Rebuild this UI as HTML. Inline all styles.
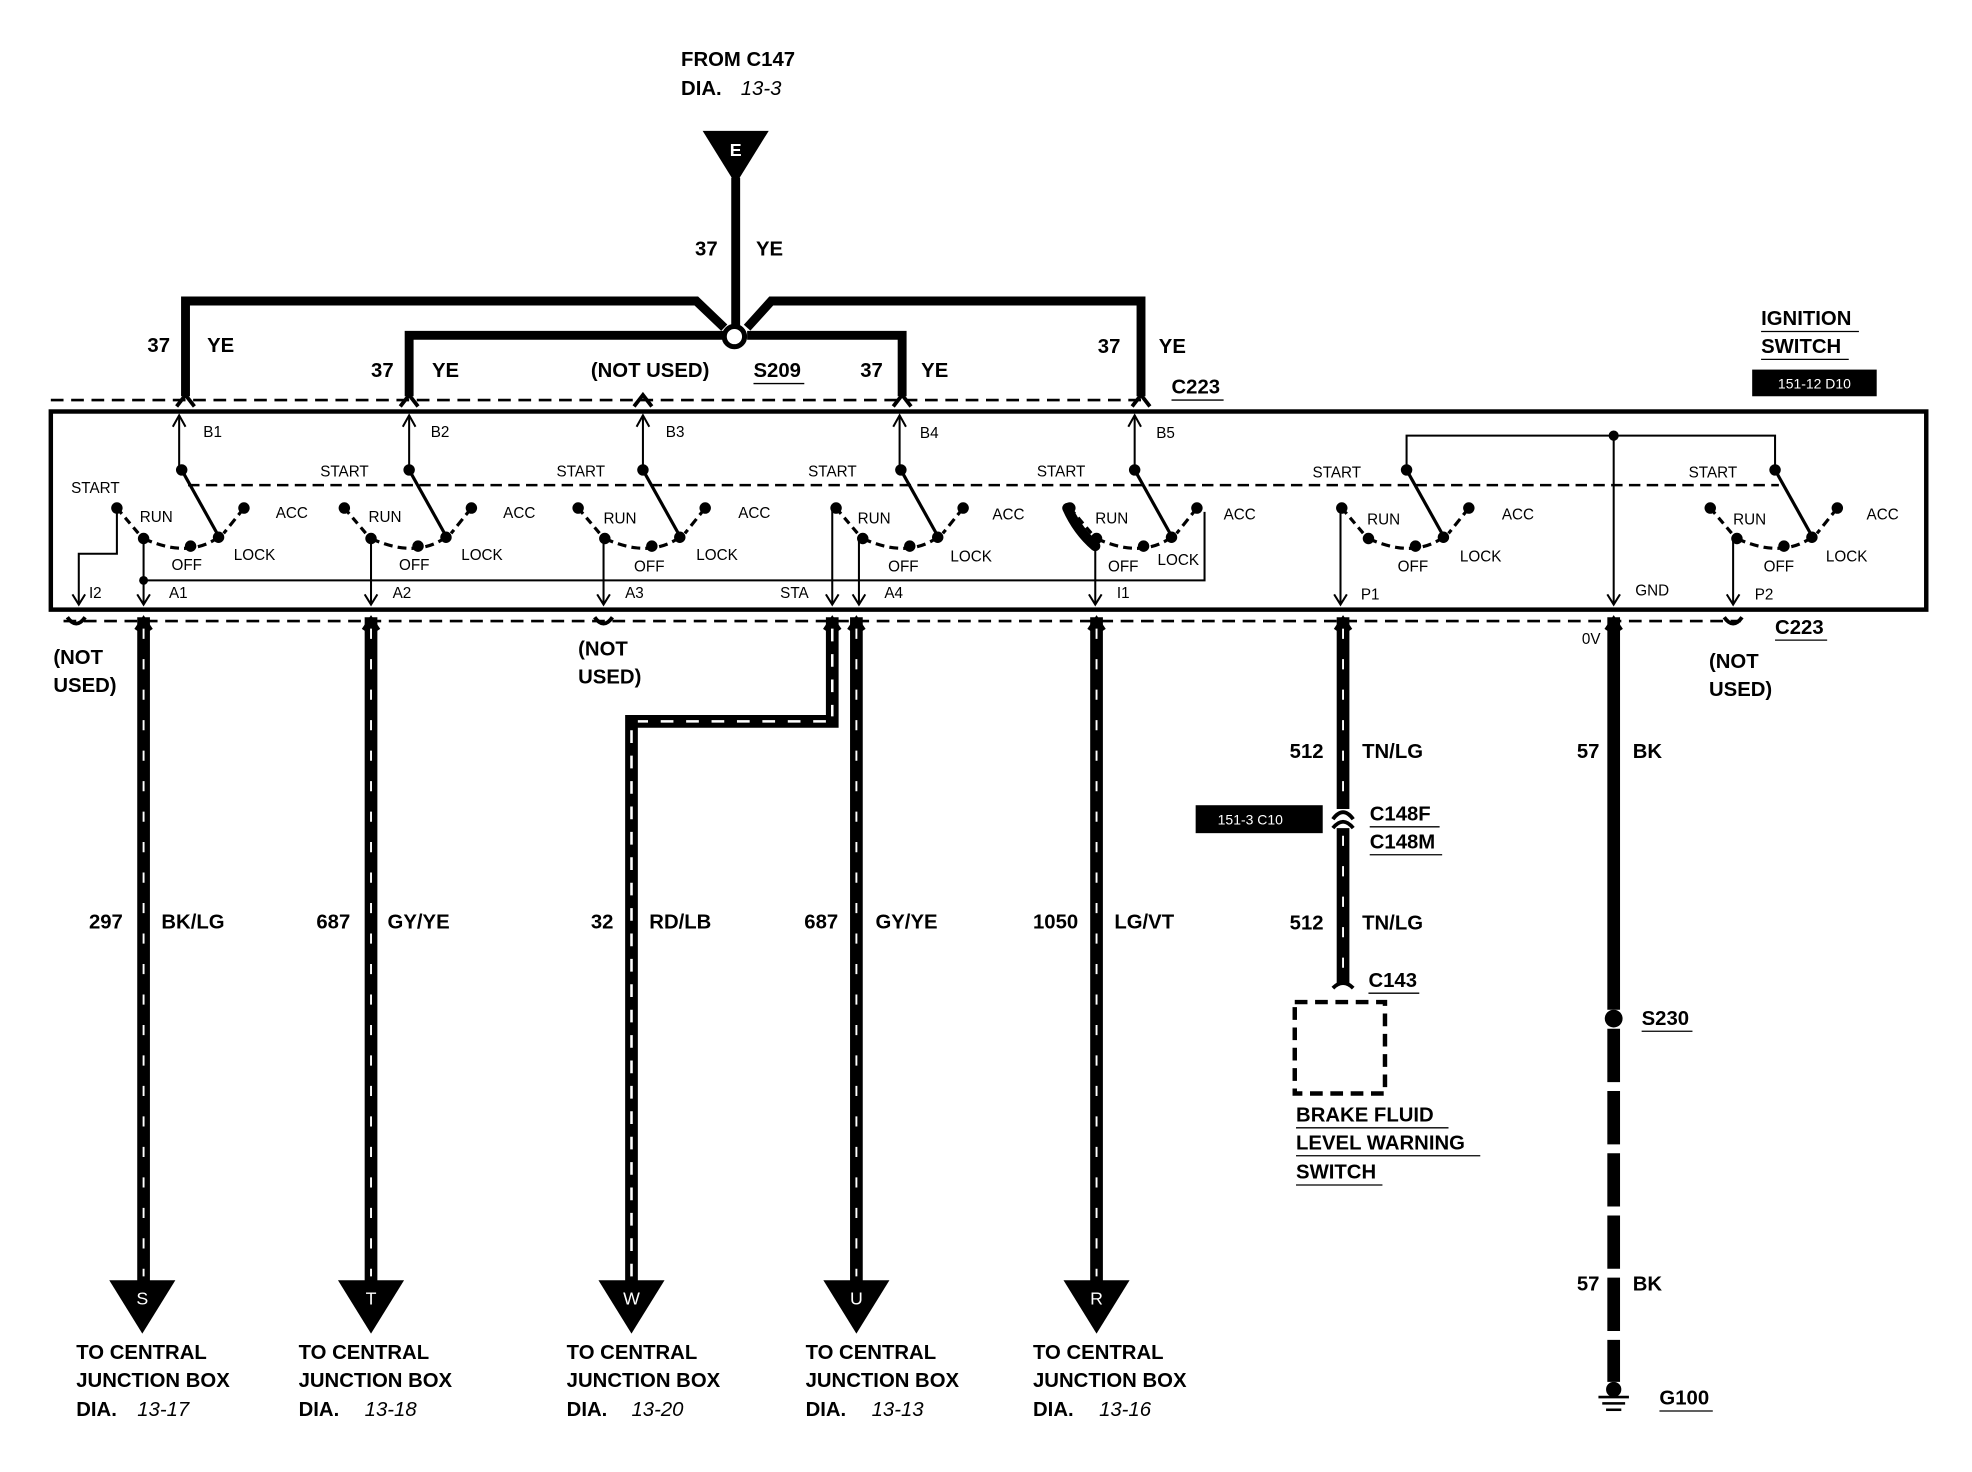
<!DOCTYPE html>
<html><head><meta charset="utf-8"><style>
html,body{margin:0;padding:0;background:#fff;}
svg{display:block}
text{font-family:"Liberation Sans",Arial,sans-serif;font-weight:bold;fill:#000}
.b{font-size:16px}
.s{font-size:12px;font-weight:normal}
.i{font-style:italic;font-weight:normal}
</style></head><body>
<svg width="1972" height="1472" viewBox="0 0 1552 1159" preserveAspectRatio="none" xmlns="http://www.w3.org/2000/svg">
<rect width="1552" height="1159" fill="#fff"/>
<text class="b" x="536" y="52">FROM C147</text>
<text class="b" x="536" y="75">DIA.</text><text class="b i" x="583" y="75">13-3</text>
<polygon points="553,103 605,103 579,145" fill="#000"/>
<text x="579" y="123" text-anchor="middle" style="fill:#fff;font-size:14px">E</text>
<g stroke="#000" stroke-width="7" fill="none">
<line x1="579" y1="140" x2="579" y2="258"/>
<polyline points="146,312 146,237 548,237 570,258"/>
<polyline points="898,312 898,237 607,237 588,258"/>
<polyline points="322,312 322,264 570,264"/>
<polyline points="588,264 710,264 710,312"/>
</g>
<circle cx="578" cy="265" r="8" fill="#fff" stroke="#000" stroke-width="4"/>
<text class="b" x="547" y="201">37</text><text class="b" x="595" y="201">YE</text>
<text class="b" x="116" y="277">37</text><text class="b" x="163" y="277">YE</text>
<text class="b" x="292" y="297">37</text><text class="b" x="340" y="297">YE</text>
<text class="b" x="465" y="297">(NOT USED)</text>
<text class="b" x="593" y="297">S209</text><line x1="593" y1="302" x2="633" y2="302" stroke="#000"/>
<text class="b" x="677" y="297">37</text><text class="b" x="725" y="297">YE</text>
<text class="b" x="864" y="278">37</text><text class="b" x="912" y="278">YE</text>
<text class="b" x="922" y="310">C223</text><line x1="922" y1="315" x2="963" y2="315" stroke="#000"/>
<text class="b" x="1386" y="256">IGNITION</text><line x1="1386" y1="261" x2="1463" y2="261" stroke="#000"/>
<text class="b" x="1386" y="278">SWITCH</text><line x1="1386" y1="283" x2="1455" y2="283" stroke="#000"/>
<rect x="1379" y="291" width="98" height="21" fill="#000"/>
<text x="1428" y="306" text-anchor="middle" style="fill:#fff;font-size:11px;font-weight:normal">151-12 D10</text>
<line x1="40" y1="315" x2="900" y2="315" stroke="#000" stroke-width="2" stroke-dasharray="10,6"/>
<g stroke="#000" stroke-width="3" fill="none">
<polyline points="139,320 146,311 153,320"/><polyline points="315,320 322,311 329,320"/>
<polyline points="499,320 506,311 513,320"/><polyline points="703,320 710,311 717,320"/>
<polyline points="891,320 898,311 905,320"/>
</g>
<rect x="40" y="324" width="1476" height="156" fill="none" stroke="#000" stroke-width="3.5"/>
<line x1="148" y1="382" x2="1400" y2="382" stroke="#000" stroke-width="2" stroke-dasharray="9,5"/>
<g stroke="#000" stroke-width="1.6" fill="none">
<line x1="141" y1="327" x2="141" y2="370"/><line x1="322" y1="327" x2="322" y2="370"/>
<line x1="506" y1="327" x2="506" y2="370"/><line x1="708" y1="327" x2="708" y2="370"/>
<line x1="893" y1="327" x2="893" y2="370"/>
<path d="M136,336 L141,327 L146,336 M317,336 L322,327 L327,336 M501,336 L506,327 L511,336 M703,336 L708,327 L713,336 M888,336 L893,327 L898,336"/>
<polyline points="1107,370 1107,343 1397,343 1397,370"/>
<line x1="1270" y1="343" x2="1270" y2="476"/>
<polyline points="113,457 948,457 948,403"/>
<polyline points="92,400 92,436 62,436 62,476"/>
<line x1="113" y1="424" x2="113" y2="476"/><line x1="292" y1="424" x2="292" y2="476"/>
<line x1="475" y1="424" x2="475" y2="476"/><line x1="655" y1="402" x2="655" y2="476"/>
<line x1="676" y1="424" x2="676" y2="476"/><line x1="862" y1="428" x2="862" y2="476"/>
<line x1="1055" y1="402" x2="1055" y2="476"/><line x1="1364" y1="424" x2="1364" y2="476"/>
<path d="M57,468 L62,476 L67,468 M108,468 L113,476 L118,468 M287,468 L292,476 L297,468 M470,468 L475,476 L480,468 M650,468 L655,476 L660,468 M671,468 L676,476 L681,468 M857,468 L862,476 L867,468 M1050,468 L1055,476 L1060,468 M1265,468 L1270,476 L1275,468 M1359,468 L1364,476 L1369,468"/>
</g>
<circle cx="1270" cy="343" r="4" fill="#000"/>
<circle cx="113" cy="457" r="3.5" fill="#000"/>
<defs>
<g id="sw">
<line x1="0" y1="0" x2="29" y2="52" stroke="#000" stroke-width="2.5"/>
<line x1="-51" y1="30" x2="-34" y2="50" stroke="#000" stroke-width="2.5" stroke-dasharray="6,4"/>
<line x1="49" y1="30" x2="33" y2="50" stroke="#000" stroke-width="2.5" stroke-dasharray="7,4"/>
<path d="M-30,54 Q5,70 29,53" stroke="#000" stroke-width="2.5" fill="none" stroke-dasharray="7,4"/>
<circle cx="0" cy="0" r="4.5"/><circle cx="-51" cy="30" r="4.5"/><circle cx="-30" cy="54" r="4.5"/>
<circle cx="7" cy="60" r="4.5"/><circle cx="29" cy="53" r="4.5"/><circle cx="49" cy="30" r="4.5"/>
</g>
</defs>
<use href="#sw" x="143" y="370"/><use href="#sw" x="322" y="370"/><use href="#sw" x="506" y="370"/>
<use href="#sw" x="709" y="370"/><use href="#sw" x="893" y="370"/><use href="#sw" x="1107" y="370"/>
<use href="#sw" x="1397" y="370"/>
<path d="M840,400 Q848,418 862,430" stroke="#000" stroke-width="8" fill="none" stroke-linecap="round"/>
<g class="s">
<text class="s" x="56" y="388">START</text><text class="s" x="252" y="375">START</text><text class="s" x="438" y="375">START</text>
<text class="s" x="636" y="375">START</text><text class="s" x="816" y="375">START</text><text class="s" x="1033" y="376">START</text><text class="s" x="1329" y="376">START</text>
<text class="s" x="110" y="411">RUN</text><text class="s" x="290" y="411">RUN</text><text class="s" x="475" y="412">RUN</text><text class="s" x="675" y="412">RUN</text><text class="s" x="862" y="412">RUN</text><text class="s" x="1076" y="413">RUN</text><text class="s" x="1364" y="413">RUN</text>
<text class="s" x="217" y="408">ACC</text><text class="s" x="396" y="408">ACC</text><text class="s" x="581" y="408">ACC</text><text class="s" x="781" y="409">ACC</text><text class="s" x="963" y="409">ACC</text><text class="s" x="1182" y="409">ACC</text><text class="s" x="1469" y="409">ACC</text>
<text class="s" x="135" y="449">OFF</text><text class="s" x="314" y="449">OFF</text><text class="s" x="499" y="450">OFF</text><text class="s" x="699" y="450">OFF</text><text class="s" x="872" y="450">OFF</text><text class="s" x="1100" y="450">OFF</text><text class="s" x="1388" y="450">OFF</text>
<text class="s" x="184" y="441">LOCK</text><text class="s" x="363" y="441">LOCK</text><text class="s" x="548" y="441">LOCK</text><text class="s" x="748" y="442">LOCK</text><text class="s" x="911" y="445">LOCK</text><text class="s" x="1149" y="442">LOCK</text><text class="s" x="1437" y="442">LOCK</text>
<text class="s" x="160" y="344">B1</text><text class="s" x="339" y="344">B2</text><text class="s" x="524" y="344">B3</text><text class="s" x="724" y="345">B4</text><text class="s" x="910" y="345">B5</text>
<text class="s" x="70" y="471">I2</text><text class="s" x="133" y="471">A1</text><text class="s" x="309" y="471">A2</text><text class="s" x="492" y="471">A3</text><text class="s" x="614" y="471">STA</text><text class="s" x="696" y="471">A4</text><text class="s" x="879" y="471">I1</text><text class="s" x="1071" y="472">P1</text><text class="s" x="1287" y="469">GND</text><text class="s" x="1381" y="472">P2</text>
</g>
<line x1="50" y1="489" x2="1370" y2="489" stroke="#000" stroke-width="2" stroke-dasharray="10,6"/>
<g stroke="#000" stroke-width="3" fill="none">
<path d="M53,486 Q60,496 67,486 M468,486 Q475,496 482,486 M1357,486 Q1364,496 1371,486"/>
</g>
<text class="b" x="1397" y="499">C223</text><line x1="1397" y1="504" x2="1438" y2="504" stroke="#000"/>
<text class="b" x="42" y="523">(NOT</text><text class="b" x="42" y="545">USED)</text>
<text class="b" x="455" y="516">(NOT</text><text class="b" x="455" y="538">USED)</text>
<text class="b" x="1345" y="526">(NOT</text><text class="b" x="1345" y="548">USED)</text>
<text class="s" x="1245" y="507">0V</text>
<g fill="none" stroke="#000" stroke-width="10">
<line x1="113" y1="486" x2="113" y2="1012"/><line x1="292" y1="486" x2="292" y2="1012"/>
<polyline points="655,486 655,568 497,568 497,1012"/>
<line x1="674" y1="486" x2="674" y2="1012"/><line x1="863" y1="486" x2="863" y2="1012"/>
<line x1="1057" y1="486" x2="1057" y2="637"/><line x1="1057" y1="652" x2="1057" y2="775"/>
<line x1="1270" y1="486" x2="1270" y2="795"/>
<line x1="1270" y1="810" x2="1270" y2="1088" stroke-dasharray="42,7"/>
</g>
<g fill="none" stroke="#fff" stroke-width="1.5" stroke-dasharray="8,16">
<line x1="113" y1="495" x2="113" y2="1005"/><line x1="292" y1="495" x2="292" y2="1005"/>
<line x1="674" y1="495" x2="674" y2="1005"/><line x1="863" y1="495" x2="863" y2="1005"/>
<line x1="1057" y1="495" x2="1057" y2="632"/><line x1="1057" y1="658" x2="1057" y2="768"/>
</g>
<g fill="none" stroke="#fff" stroke-width="2" stroke-dasharray="10,10">
<line x1="655" y1="495" x2="655" y2="564"/><line x1="650" y1="568" x2="502" y2="568"/>
<line x1="497" y1="575" x2="497" y2="1005"/>
</g>
<g stroke="#000" stroke-width="3" fill="none">
<path d="M107,496 L113,487 L119,496 M286,496 L292,487 L298,496 M649,496 L655,487 L661,496 M668,496 L674,487 L680,496 M857,496 L863,487 L869,496 M1051,496 L1057,487 L1063,496 M1264,496 L1270,487 L1276,496"/>
<path d="M1049,645 Q1057,634 1065,645 M1049,652 Q1057,642 1065,652 M1049,778 Q1057,770 1065,778"/>
</g>
<rect x="941" y="634" width="100" height="22" fill="#000"/>
<text x="984" y="649" text-anchor="middle" style="fill:#fff;font-size:11px;font-weight:normal">151-3 C10</text>
<text class="b" x="1015" y="597">512</text><text class="b" x="1072" y="597">TN/LG</text>
<text class="b" x="1078" y="646">C148F</text><line x1="1078" y1="651" x2="1133" y2="651" stroke="#000"/>
<text class="b" x="1078" y="668">C148M</text><line x1="1078" y1="673" x2="1135" y2="673" stroke="#000"/>
<text class="b" x="1015" y="732">512</text><text class="b" x="1072" y="732">TN/LG</text>
<text class="b" x="1077" y="777">C143</text><line x1="1077" y1="782" x2="1117" y2="782" stroke="#000"/>
<rect x="1019" y="789" width="71" height="72" fill="none" stroke="#000" stroke-width="3.5" stroke-dasharray="10,6"/>
<text class="b" x="1020" y="883">BRAKE FLUID</text><line x1="1020" y1="888" x2="1140" y2="888" stroke="#000"/>
<text class="b" x="1020" y="905">LEVEL WARNING</text><line x1="1020" y1="910" x2="1165" y2="910" stroke="#000"/>
<text class="b" x="1020" y="928">SWITCH</text><line x1="1020" y1="933" x2="1088" y2="933" stroke="#000"/>
<text class="b" x="1241" y="597">57</text><text class="b" x="1285" y="597">BK</text>
<circle cx="1270" cy="802" r="7" fill="#000"/>
<text class="b" x="1292" y="807">S230</text><line x1="1292" y1="812" x2="1332" y2="812" stroke="#000"/>
<text class="b" x="1241" y="1016">57</text><text class="b" x="1285" y="1016">BK</text>
<circle cx="1270" cy="1094" r="6" fill="#000"/>
<g stroke="#000" stroke-width="2"><line x1="1258" y1="1100" x2="1282" y2="1100"/><line x1="1261" y1="1105" x2="1279" y2="1105"/><line x1="1264" y1="1110" x2="1276" y2="1110"/></g>
<text class="b" x="1306" y="1106">G100</text><line x1="1306" y1="1111" x2="1348" y2="1111" stroke="#000"/>
<text class="b" x="70" y="731">297</text><text class="b" x="127" y="731">BK/LG</text>
<text class="b" x="249" y="731">687</text><text class="b" x="305" y="731">GY/YE</text>
<text class="b" x="465" y="731">32</text><text class="b" x="511" y="731">RD/LB</text>
<text class="b" x="633" y="731">687</text><text class="b" x="689" y="731">GY/YE</text>
<text class="b" x="813" y="731">1050</text><text class="b" x="877" y="731">LG/VT</text>
<g fill="#000">
<polygon points="86,1008 138,1008 112,1050"/><polygon points="266,1008 318,1008 292,1050"/>
<polygon points="471,1008 523,1008 497,1050"/><polygon points="648,1008 700,1008 674,1050"/>
<polygon points="837,1008 889,1008 863,1050"/>
</g>
<g text-anchor="middle">
<text x="112" y="1027" style="fill:#fff;font-size:14px;font-weight:normal">S</text><text x="292" y="1027" style="fill:#fff;font-size:14px;font-weight:normal">T</text>
<text x="497" y="1027" style="fill:#fff;font-size:14px;font-weight:normal">W</text><text x="674" y="1027" style="fill:#fff;font-size:14px;font-weight:normal">U</text>
<text x="863" y="1027" style="fill:#fff;font-size:14px;font-weight:normal">R</text>
</g>
<text class="b" x="60" y="1070">TO CENTRAL</text><text class="b" x="60" y="1092">JUNCTION BOX</text><text class="b" x="60" y="1115">DIA.</text><text class="b i" x="108" y="1115">13-17</text>
<text class="b" x="235" y="1070">TO CENTRAL</text><text class="b" x="235" y="1092">JUNCTION BOX</text><text class="b" x="235" y="1115">DIA.</text><text class="b i" x="287" y="1115">13-18</text>
<text class="b" x="446" y="1070">TO CENTRAL</text><text class="b" x="446" y="1092">JUNCTION BOX</text><text class="b" x="446" y="1115">DIA.</text><text class="b i" x="497" y="1115">13-20</text>
<text class="b" x="634" y="1070">TO CENTRAL</text><text class="b" x="634" y="1092">JUNCTION BOX</text><text class="b" x="634" y="1115">DIA.</text><text class="b i" x="686" y="1115">13-13</text>
<text class="b" x="813" y="1070">TO CENTRAL</text><text class="b" x="813" y="1092">JUNCTION BOX</text><text class="b" x="813" y="1115">DIA.</text><text class="b i" x="865" y="1115">13-16</text>
</svg>
</body></html>
